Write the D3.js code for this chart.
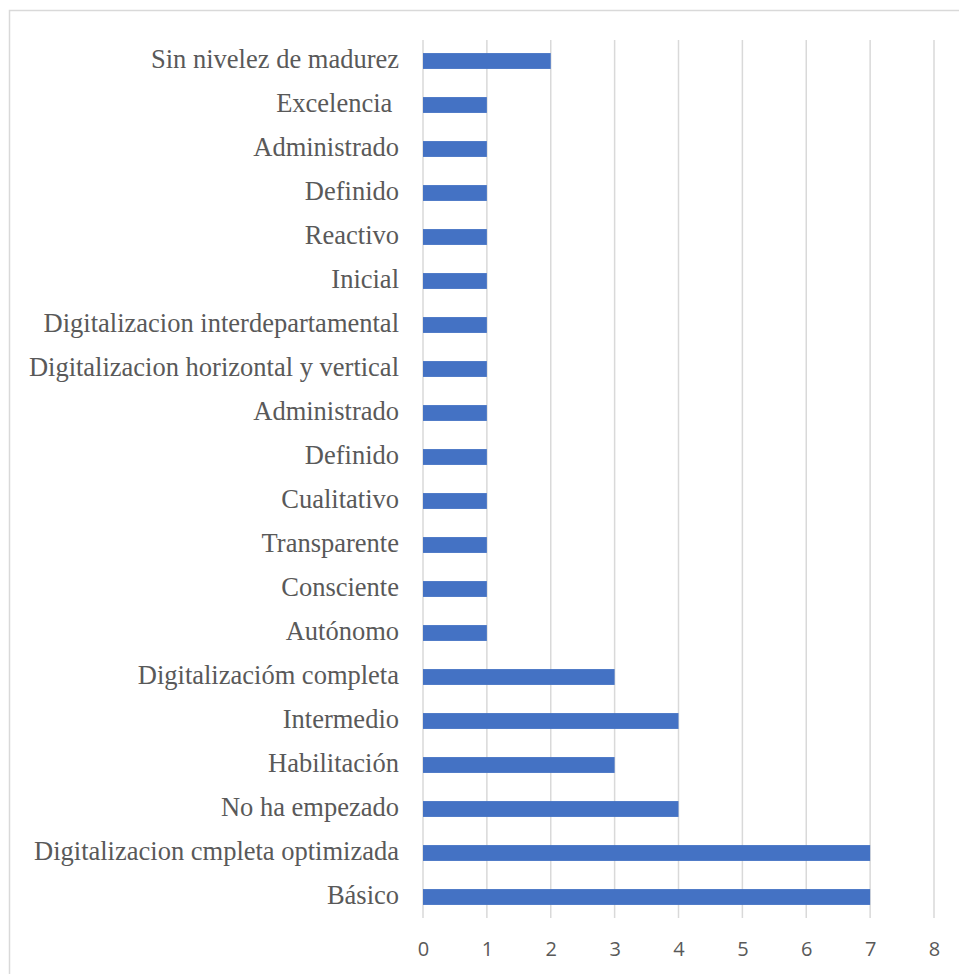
<!DOCTYPE html>
<html>
<head>
<meta charset="utf-8">
<script src="https://cdn.jsdelivr.net/npm/d3@7"></script>
<style>
body { margin:0; background:#fff; }
.cat text { font-family:"Liberation Serif","Times New Roman",serif; font-size:26.5px; fill:#595959; }
.xax text { font-family:"Open Sans","Noto Sans",sans-serif; font-size:20px; fill:#595959; }
</style>
</head>
<body>
<svg id="graph"></svg>
<script>
// categories top to bottom as in the picture
var categories = ["Sin nivelez de madurez","Excelencia ","Administrado","Definido","Reactivo","Inicial",
    "Digitalizacion interdepartamental","Digitalizacion horizontal y vertical","Administrado","Definido",
    "Cualitativo","Transparente","Consciente","Autónomo","Digitalizacióm completa","Intermedio",
    "Habilitación","No ha empezado","Digitalizacion cmpleta optimizada","Básico"];
var values = [2,1,1,1,1,1,1,1,1,1,1,1,1,1,3,4,3,4,7,7];
var ticks = [0,1,2,3,4,5,6,7,8];

var screen = {width:959, height:974};
var svg = d3.select("#graph")
    .attr("width", screen.width)
    .attr("height", screen.height);

// chart border
svg.append("rect")
    .attr("x", 9.5).attr("y", 10.5)
    .attr("width", 960).attr("height", 980)
    .attr("fill", "none")
    .attr("stroke", "#d9d9d9")
    .attr("stroke-width", 1.5);

var xScale = d3.scaleLinear()
    .domain([0, 8])
    .range([423, 934]);

var yScale = d3.scaleBand()
    .domain(d3.range(categories.length))
    .range([39, 919])
    .paddingInner(0.64)
    .paddingOuter(0.32);

// gridlines
svg.append("g")
    .selectAll("line")
    .data(ticks)
    .enter()
    .append("line")
    .attr("x1", function(d){ return xScale(d); })
    .attr("x2", function(d){ return xScale(d); })
    .attr("y1", 40)
    .attr("y2", 918)
    .attr("stroke", "#d9d9d9")
    .attr("stroke-width", 1.5);

// bars
svg.append("g")
    .selectAll("rect")
    .data(values)
    .enter()
    .append("rect")
    .attr("x", xScale(0))
    .attr("y", function(d,i){ return yScale(i); })
    .attr("width", function(d){ return xScale(d) - xScale(0); })
    .attr("height", yScale.bandwidth())
    .attr("fill", "#4472c4");

// category labels
svg.append("g")
    .classed("cat", true)
    .selectAll("text")
    .data(categories)
    .enter()
    .append("text")
    .attr("x", 399)
    .attr("y", function(d,i){ return yScale(i) + yScale.bandwidth()/2; })
    .attr("dy", "0.27em")
    .attr("text-anchor", "end")
    .text(function(d){ return d.replace(/ $/, "\u00a0"); });

// x axis labels
var xAxis = d3.axisBottom(xScale)
    .tickValues(ticks)
    .tickSize(0)
    .tickPadding(0);
svg.append("g")
    .classed("xax", true)
    .attr("transform", "translate(0,942)")
    .call(xAxis)
    .call(function(g){ g.select(".domain").remove(); });
svg.selectAll(".xax").attr("font-family", null).attr("font-size", null);
</script>
</body>
</html>
